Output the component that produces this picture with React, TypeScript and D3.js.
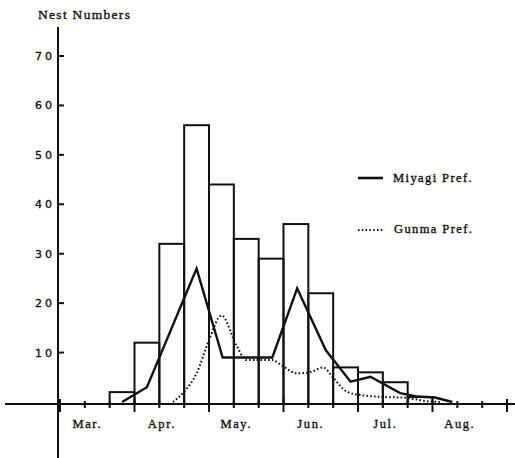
import React from "react";
import * as d3 from "d3";

// ten-day periods from 1 Mar. (period 0) onwards
const barPeriods = [2, 3, 4, 5, 6, 7, 8, 9, 10, 11, 12, 13, 14];
const barValues = [2, 12, 32, 56, 44, 33, 29, 36, 22, 7, 6, 4, 1];

const miyagiPeriod = [2.5, 3.5, 5.5, 6.55, 8.55, 9.55, 10.7, 11.7, 12.5, 13.7, 14.4, 15.1, 15.8];
const miyagiValue = [0, 3, 27, 9, 9, 23, 10.5, 4.1, 5.1, 1.8, 1.1, 0.9, 0];

const gunmaPeriod = [4.55, 5, 5.5, 6, 6.5, 7.1, 7.5, 8.55, 8.9, 9.55, 10.1, 10.6, 11, 11.55, 12.1, 13.1, 13.8, 14.9, 15.3];
const gunmaValue = [0, 2.1, 5.8, 12.5, 17.5, 11.5, 8.5, 8.5, 7.5, 5.8, 6.1, 7, 4.9, 2.1, 1.4, 1, 0.9, 0.1, 0];

const yTicks = [10, 20, 30, 40, 50, 60, 70];
const tickPeriods = [0, 1, 2, 3, 4, 5, 6, 7, 8, 9, 10, 11, 12, 13, 14, 15, 16, 17, 18];
const monthPeriods = [0, 3, 6, 9, 12, 15, 18];
const monthLabels = ["Mar.", "Apr.", "May.", "Jun.", "Jul.", "Aug."];

const W = 515;
const H = 458;
const ink = "#111";
const serif = "'Liberation Serif', 'DejaVu Serif', serif";
// scanned print looks a bit heavier than plain text
const heavy = { stroke: ink, strokeWidth: 0.35 };

const App = () => {
  const x = d3.scaleLinear().domain([0, 18]).range([60, 507]);
  const y = d3.scaleLinear().domain([0, 70]).range([402, 56]);
  const axisY = 404; // the drawn base line sits a little under zero

  const line = d3.line<[number, number]>()
    .x((d) => x(d[0]))
    .y((d) => y(d[1]));
  const dotted = d3.line<[number, number]>()
    .x((d) => x(d[0]))
    .y((d) => y(d[1]))
    .curve(d3.curveMonotoneX);

  const miyagi = miyagiPeriod.map((p, i) => [p, miyagiValue[i]] as [number, number]);
  const gunma = gunmaPeriod.map((p, i) => [p, gunmaValue[i]] as [number, number]);

  return (
    <svg width={W} height={H} style={{ position: "absolute", left: 0, top: 0, background: "#fff" }}>
      {/* title */}
      <text x={38} y={19} fontFamily={serif} fontSize={13.5} letterSpacing={1.3} fill={ink} {...heavy}>
        Nest Numbers
      </text>

      {/* histogram */}
      {barPeriods.map((p, i) => (
        <rect key={i} x={x(p)} y={y(barValues[i])} width={x(p + 1) - x(p)}
          height={axisY - y(barValues[i])} fill="none" stroke={ink} strokeWidth={2} />
      ))}

      {/* Gunma (dotted) */}
      <path d={dotted(gunma) || ""} fill="none" stroke={ink} strokeWidth={2}
        strokeDasharray="1.6 2.2" />
      {/* Miyagi (solid) */}
      <path d={line(miyagi) || ""} fill="none" stroke={ink} strokeWidth={2.4}
        strokeLinejoin="miter" />

      {/* axes */}
      <line x1={5} x2={W} y1={axisY} y2={axisY} stroke={ink} strokeWidth={2} />
      <line x1={x(0) - 2} x2={x(0) - 2} y1={27} y2={H} stroke={ink} strokeWidth={2} />

      {tickPeriods.map((p) => {
        const long = monthPeriods.includes(p);
        return (
          <line key={p} x1={x(p)} x2={x(p)} y1={long ? 399 : 401} y2={long ? 412 : 408}
            stroke={ink} strokeWidth={2} />
        );
      })}
      {monthLabels.map((m, i) => (
        <text key={m} x={x(monthPeriods[i] + 1.1)} y={428} textAnchor="middle"
          fontFamily={serif} fontSize={12.5} letterSpacing={1.6} fill={ink} {...heavy}>
          {m}
        </text>
      ))}

      {yTicks.map((t) => (
        <g key={t}>
          <line x1={x(0) - 2} x2={x(0) + 4} y1={y(t)} y2={y(t)} stroke={ink} strokeWidth={2} />
          <text x={55} y={y(t) + 4} textAnchor="end" fontFamily="'DejaVu Sans', sans-serif"
            fontSize={11} letterSpacing={3} fill={ink} {...heavy}>
            {t}
          </text>
        </g>
      ))}

      {/* legend */}
      <line x1={358} x2={383} y1={178} y2={178} stroke={ink} strokeWidth={2.6} />
      <text x={393} y={182} fontFamily={serif} fontSize={12.5} letterSpacing={1.4} fill={ink} {...heavy}>
        Miyagi Pref.
      </text>
      <line x1={358} x2={383} y1={230} y2={230} stroke={ink} strokeWidth={1.8}
        strokeDasharray="1.5 2.3" />
      <text x={394} y={233} fontFamily={serif} fontSize={12.5} letterSpacing={1.4} fill={ink} {...heavy}>
        Gunma Pref.
      </text>
    </svg>
  );
};

export default App;
